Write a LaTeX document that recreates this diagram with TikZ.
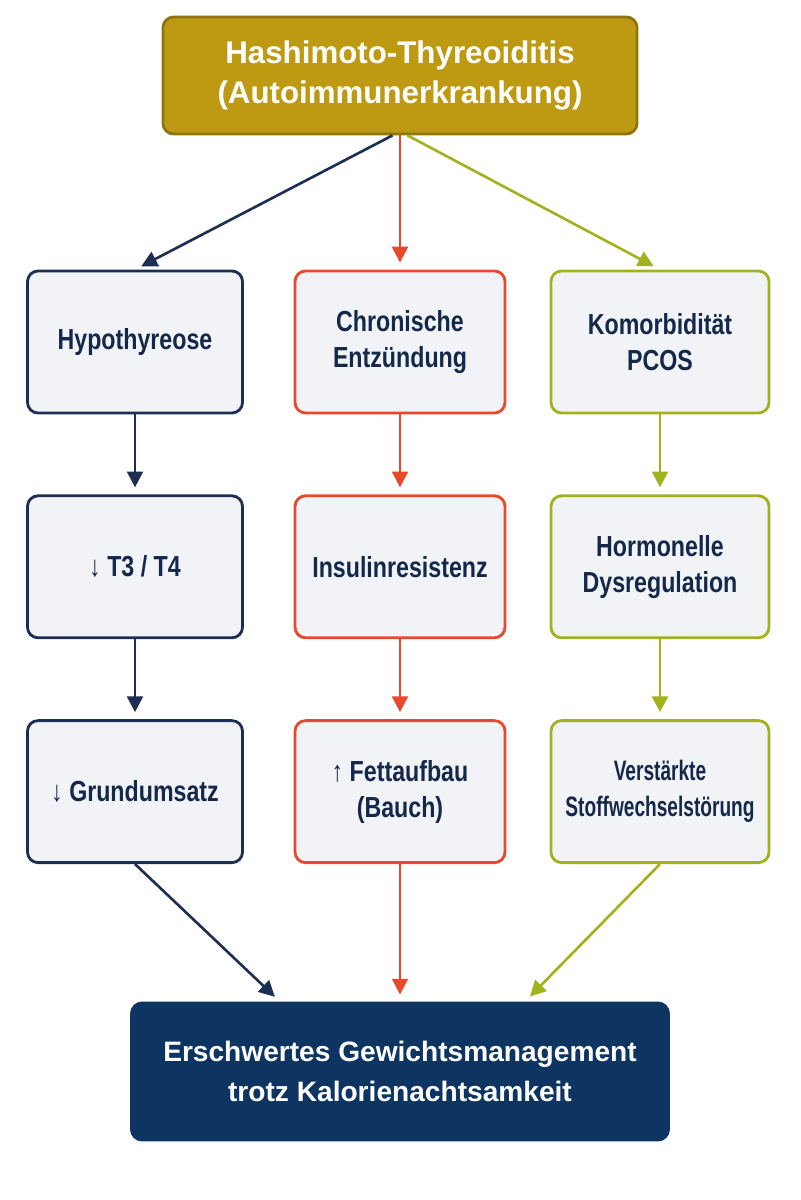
\documentclass[tikz,border=0pt]{standalone}
\usepackage{fontspec}
\usetikzlibrary{arrows.meta, positioning, calc}
\newfontfamily\boxfont{Liberation Sans}[FakeStretch=0.8]
\newfontfamily\narrowfont{Liberation Sans}[FakeStretch=0.68]
\newfontfamily\headfont{Liberation Sans}
\definecolor{HashiGold}{HTML}{BE9A12}
\definecolor{HashiGoldDark}{HTML}{8F7410}
\definecolor{HashiNavy}{HTML}{1C2E52}
\definecolor{HashiRed}{HTML}{E8482C}
\definecolor{HashiOlive}{HTML}{A2B21F}
\definecolor{HashiDeep}{HTML}{0E3562}
\definecolor{HashiBox}{HTML}{F1F3F6}
\definecolor{HashiText}{HTML}{14284A}

\begin{document}
\begin{tikzpicture}[node distance=1.6cm, >={Triangle[length=9pt,width=9pt]},
        box/.style={rectangle, draw=#1, line width=1.6pt, fill=HashiBox, rounded corners=6pt, minimum width=4.3cm, minimum height=2.84cm, align=center, text=HashiText, font=\boxfont\bfseries\fontsize{16.5}{20.5}\selectfont},
        arrow/.style={->, line width=1.5pt, draw=#1, fill=#1, shorten >=4pt}]

        \useasboundingbox (0,0) rectangle (16,-24);

        \node[rectangle, draw=HashiGoldDark, line width=1.6pt, fill=HashiGold, rounded corners=6pt, minimum width=9.48cm, minimum height=2.34cm, align=center, text=white, font=\headfont\bfseries\fontsize{17.8}{22.7}\selectfont] (hash) at (8,-1.51) {Hashimoto-Thyreoiditis\\(Autoimmunerkrankung)};

        \node[box=HashiNavy] (hypo) at (2.7,-6.84) {Hypothyreose};
        \node[box=HashiRed, minimum width=4.2cm] (entz) at (8,-6.84) {Chronische\\Entzündung};
        \node[box=HashiOlive, minimum width=4.36cm] (pcos) at (13.2,-6.84) {Komorbidität\\PCOS};

        \node[box=HashiNavy, below=of hypo] (t34) {↓ T3 / T4};
        \node[box=HashiRed, minimum width=4.2cm, below=of entz] (insulin) {Insulinresistenz};
        \node[box=HashiOlive, minimum width=4.36cm, below=of pcos] (hormon) {Hormonelle\\Dysregulation};

        \node[box=HashiNavy, below=of t34] (grund) {↓ Grundumsatz};
        \node[box=HashiRed, minimum width=4.2cm, below=of insulin] (fett) {↑ Fettaufbau\\(Bauch)};
        \node[box=HashiOlive, minimum width=4.36cm, below=of hormon, font=\narrowfont\bfseries\fontsize{16}{20.5}\selectfont] (stoff) {Verstärkte\\Stoffwechselstörung};

        \node[rectangle, draw=HashiDeep, line width=1.6pt, fill=HashiDeep, rounded corners=6pt, minimum width=10.74cm, minimum height=2.74cm, align=center, text=white, font=\headfont\bfseries\fontsize{16}{23}\selectfont] (ziel) at (8,-21.43) {Erschwertes Gewichtsmanagement\\trotz Kalorienachtsamkeit};

        \draw[arrow=HashiNavy] ($(hash.south)+(-0.15,0)$) -- (hypo.north);
        \draw[arrow=HashiRed] (hash) -- (entz);
        \draw[arrow=HashiOlive] ($(hash.south)+(0.15,0)$) -- (pcos.north);

        \draw[arrow=HashiNavy] (hypo) -- (t34);
        \draw[arrow=HashiNavy] (t34) -- (grund);
        \draw[arrow=HashiRed] (entz) -- (insulin);
        \draw[arrow=HashiRed] (insulin) -- (fett);
        \draw[arrow=HashiOlive] (pcos) -- (hormon);
        \draw[arrow=HashiOlive] (hormon) -- (stoff);

        \draw[arrow=HashiNavy] (grund.south) -- ($(ziel.north)+(-2.4,0)$);
        \draw[arrow=HashiRed] (fett) -- (ziel);
        \draw[arrow=HashiOlive] (stoff.south) -- ($(ziel.north)+(2.5,0)$);
    \end{tikzpicture}
\end{document}
